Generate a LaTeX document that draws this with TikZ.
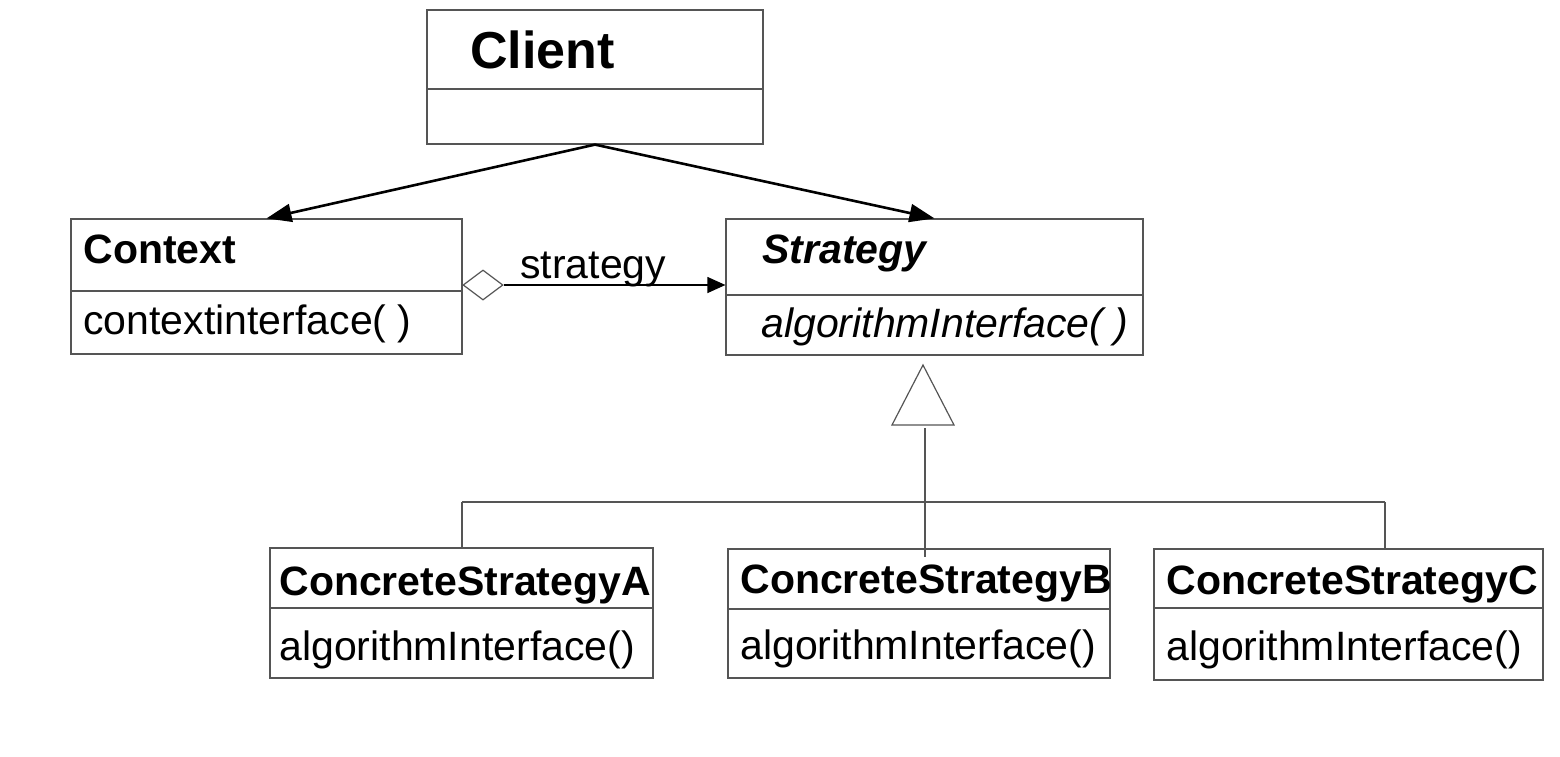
\documentclass[tikz,border=0pt]{standalone}
\usepackage{fontspec}
\setmainfont{Liberation Sans}
\usetikzlibrary{arrows.meta,shapes.geometric}
\definecolor{boxline}{RGB}{85,85,85}
\tikzset{
  cls/.style={draw=boxline, line width=0.6pt, inner sep=0pt, fill=none},
  txt/.style={anchor=base west, inner sep=0pt, font=\fontsize{20.5pt}{24pt}\selectfont},
  bigtxt/.style={anchor=base west, inner sep=0pt, font=\fontsize{26pt}{30pt}\selectfont\bfseries},
  divider/.style={draw=boxline, line width=0.6pt},
  assoc/.style={line width=1.3pt, -{Triangle[length=12.5pt,width=9pt]}},
  navig/.style={line width=0.6pt, -{Triangle[length=9pt,width=8pt]}},
  genline/.style={draw=boxline, line width=0.6pt},
}
\begin{document}
\begin{tikzpicture}[x=0.5pt,y=-0.5pt]
\useasboundingbox (0,0) rectangle (1560,756);
% classes
\node[cls, minimum width=168pt, minimum height=67pt] (client) at (595,77) {};
\node[cls, minimum width=195.5pt, minimum height=67.5pt] (ctx) at (266.5,286.5) {};
\node[cls, minimum width=208.5pt, minimum height=68pt] (str) at (934.5,287) {};
\node[cls, minimum width=191.5pt, minimum height=65pt] (csa) at (461.5,613) {};
\node[cls, minimum width=191pt, minimum height=64.5pt] (csb) at (919,613.5) {};
\node[cls, minimum width=194.5pt, minimum height=65.5pt] (csc) at (1348.5,614.5) {};
% dividers
\draw[divider] (client.west |- 0,89) -- (client.east |- 0,89);
\draw[divider] (ctx.west |- 0,291) -- (ctx.east |- 0,291);
\draw[divider] (str.west |- 0,295) -- (str.east |- 0,295);
\draw[divider] (csa.west |- 0,608) -- (csa.east |- 0,608);
\draw[divider] (csb.west |- 0,609) -- (csb.east |- 0,609);
\draw[divider] (csc.west |- 0,608) -- (csc.east |- 0,608);
% texts
\node[bigtxt] (tclient) at (470,68) {Client};
\node[txt, font=\fontsize{20.5pt}{24pt}\selectfont\bfseries] (tctx) at (83,263) {Context};
\node[txt] (tctxop) at (83,334) {contextinterface( )};
\node[txt, font=\fontsize{20.5pt}{24pt}\selectfont\bfseries\itshape] (tstr) at (762,263) {Strategy};
\node[txt, font=\fontsize{20.5pt}{24pt}\selectfont\itshape] (tstrop) at (761,337) {algorithmInterface( )};
\node[txt, font=\fontsize{20.5pt}{24pt}\selectfont\bfseries] (tcsa) at (279,595) {ConcreteStrategyA};
\node[txt] (tcsaop) at (279,660) {algorithmInterface()};
\node[txt, font=\fontsize{20.5pt}{24pt}\selectfont\bfseries] (tcsb) at (740,593) {ConcreteStrategyB};
\node[txt] (tcsbop) at (740,659) {algorithmInterface()};
\node[txt, font=\fontsize{20.5pt}{24pt}\selectfont\bfseries] (tcsc) at (1166,594) {ConcreteStrategyC};
\node[txt] (tcscop) at (1166,660) {algorithmInterface()};
% client associations
\draw[assoc] (client.south) -- (ctx.north);
\draw[assoc] (client.south) -- (str.north);
% aggregation
\node[draw=boxline, line width=0.6pt, diamond, inner sep=0pt, minimum width=20pt, minimum height=15pt, fill=white] (dia) at (483,285) {};
\draw[navig] (dia.east) -- (str.west |- dia.east);
\node[txt] (lstrat) at (520,278) {strategy};
% generalization
\coordinate (apex) at (923,365);
\coordinate (bl) at (892,425);
\coordinate (br) at (954,425);
\draw[genline] (apex) -- (bl) -- (br) -- cycle;
\coordinate (stemtop) at (925,428);
\coordinate (stembot) at (925,557);
\draw[genline] (stemtop) -- (stembot);
\coordinate (hl) at (462,502);
\coordinate (hr) at (1385,502);
\draw[genline] (hl) -- (hr);
\draw[genline] (hl) -- (hl |- csa.north);
\draw[genline] (hr) -- (hr |- csc.north);
\end{tikzpicture}
\end{document}
